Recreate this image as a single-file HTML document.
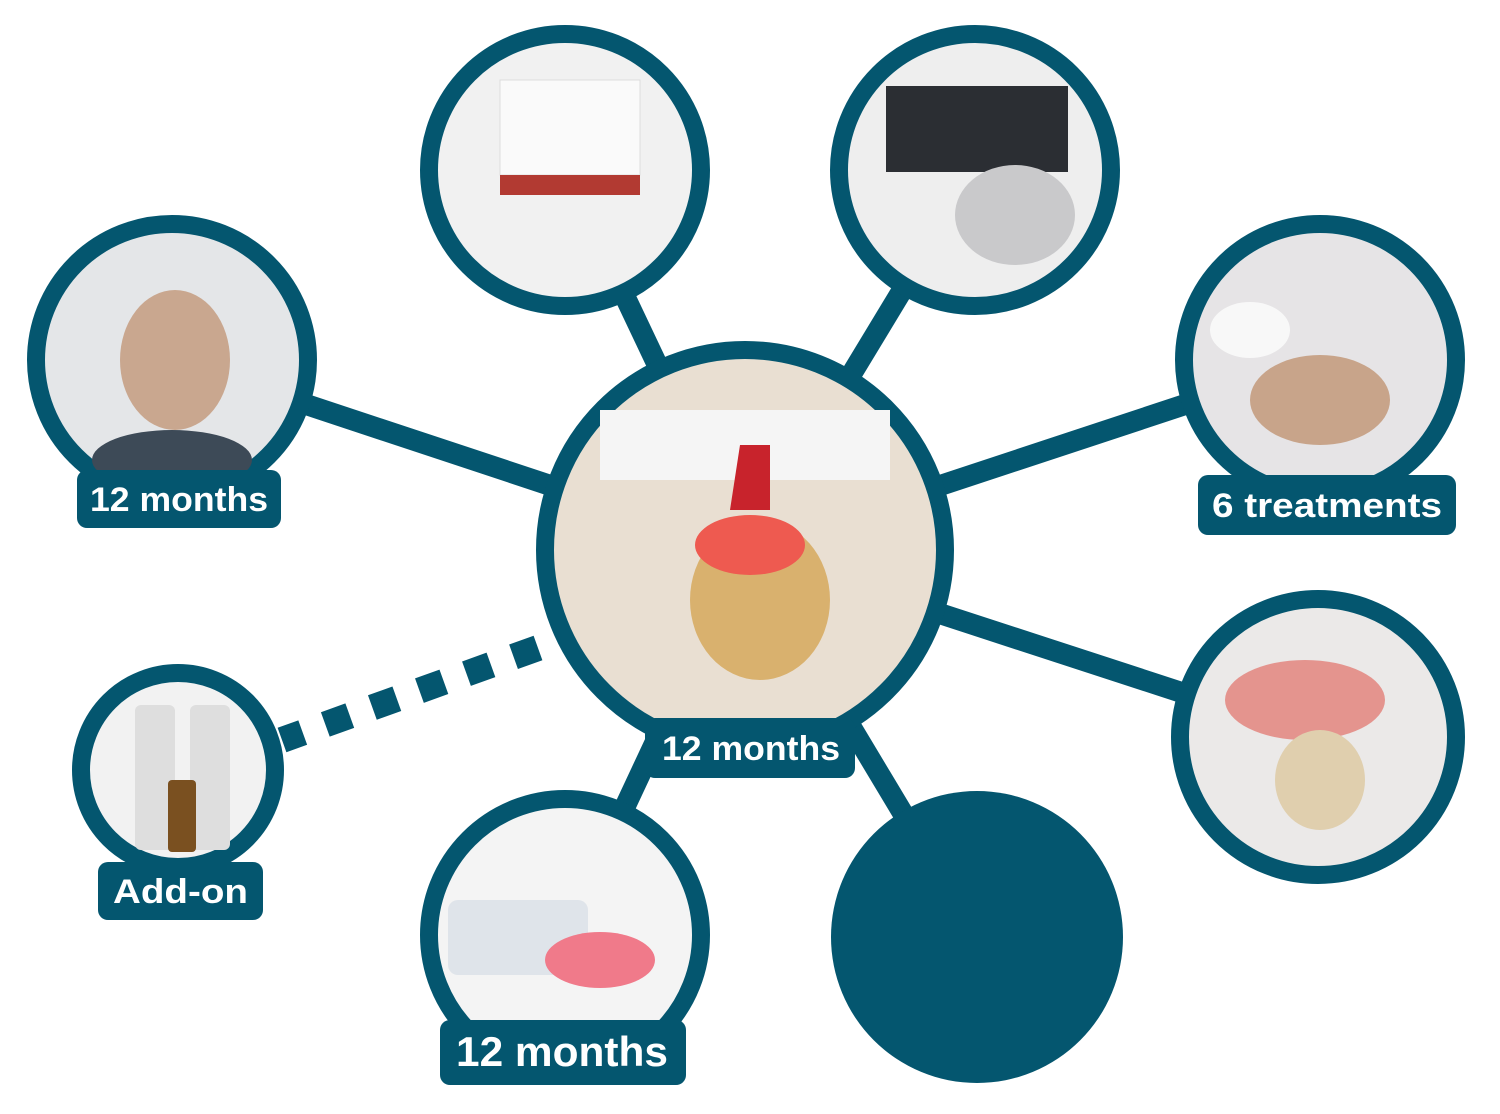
<!DOCTYPE html>
<html><head><meta charset="utf-8"><style>
html,body{margin:0;padding:0;background:#fff;}
svg{display:block}
text{font-family:"Liberation Sans",sans-serif;font-weight:bold;fill:#fff}
</style></head><body>
<svg width="1500" height="1114" viewBox="0 0 1500 1114" xmlns="http://www.w3.org/2000/svg">
<g stroke="#04566f" stroke-width="21" stroke-linecap="butt">
<line x1="745" y1="550" x2="565" y2="170"/>
<line x1="745" y1="550" x2="975" y2="170"/>
<line x1="745" y1="550" x2="172" y2="360"/>
<line x1="745" y1="550" x2="1320" y2="360"/>
<line x1="745" y1="550" x2="1318" y2="737"/>
<line x1="745" y1="550" x2="565" y2="935"/>
<line x1="745" y1="550" x2="977" y2="937"/>
</g>
<line x1="538" y1="648" x2="282" y2="740" stroke="#04566f" stroke-width="26" stroke-dasharray="26,24"/>
<g stroke="#04566f" stroke-width="18">
<circle cx="565" cy="170" r="136" fill="#f1f1f1"/>
<circle cx="975" cy="170" r="136" fill="#eeeeee"/>
<circle cx="172" cy="360" r="136" fill="#e4e6e8"/>
<circle cx="1320" cy="360" r="136" fill="#e6e4e6"/>
<circle cx="745" cy="550" r="200" fill="#e9dfd2"/>
<circle cx="1318" cy="737" r="138" fill="#ebe9e8"/>
<circle cx="178" cy="770" r="97" fill="#f2f2f2"/>
<circle cx="565" cy="935" r="136" fill="#f4f4f4"/>
</g>
<circle cx="977" cy="937" r="146" fill="#04566f"/>
<rect x="500" y="80" width="140" height="95" fill="#fafafa" stroke="#ddd"/>
<rect x="500" y="175" width="140" height="20" fill="#b23a32"/>
<rect x="886" y="86" width="182" height="86" fill="#2b2e33"/>
<ellipse cx="1015" cy="215" rx="60" ry="50" fill="#c9c9cb"/>
<ellipse cx="175" cy="360" rx="55" ry="70" fill="#c9a78f"/>
<ellipse cx="172" cy="460" rx="80" ry="30" fill="#3d4a57"/>
<ellipse cx="1320" cy="400" rx="70" ry="45" fill="#c8a48a"/>
<ellipse cx="1250" cy="330" rx="40" ry="28" fill="#f8f8f8"/>
<path d="M600 410 L890 410 L890 480 L600 480 Z" fill="#f5f5f5"/>
<path d="M740 445 L770 445 L770 510 L730 510 Z" fill="#c8232c"/>
<ellipse cx="760" cy="600" rx="70" ry="80" fill="#d9b16e"/>
<ellipse cx="750" cy="545" rx="55" ry="30" fill="#ee5a50"/>
<ellipse cx="1305" cy="700" rx="80" ry="40" fill="#e4948e"/>
<ellipse cx="1320" cy="780" rx="45" ry="50" fill="#e0cfae"/>
<rect x="135" y="705" width="40" height="145" rx="6" fill="#dedede"/>
<rect x="190" y="705" width="40" height="145" rx="6" fill="#dedede"/>
<rect x="168" y="780" width="28" height="72" rx="4" fill="#7a5020"/>
<rect x="448" y="900" width="140" height="75" rx="10" fill="#dfe4ea"/>
<ellipse cx="600" cy="960" rx="55" ry="28" fill="#f07a8a"/>
<rect x="77" y="470" width="204" height="58" rx="10" fill="#04566f"/>
<text x="90" y="511" font-size="34" textLength="178" lengthAdjust="spacingAndGlyphs">12 months</text>
<rect x="1198" y="475" width="258" height="60" rx="10" fill="#04566f"/>
<text x="1212" y="517" font-size="34" textLength="230" lengthAdjust="spacingAndGlyphs">6 treatments</text>
<rect x="645" y="718" width="210" height="60" rx="10" fill="#04566f"/>
<text x="662" y="760" font-size="34" textLength="178" lengthAdjust="spacingAndGlyphs">12 months</text>
<rect x="98" y="862" width="165" height="58" rx="10" fill="#04566f"/>
<text x="113" y="903" font-size="34" textLength="135" lengthAdjust="spacingAndGlyphs">Add-on</text>
<rect x="440" y="1020" width="246" height="65" rx="10" fill="#04566f"/>
<text x="456" y="1066" font-size="42" textLength="212" lengthAdjust="spacingAndGlyphs">12 months</text>
</svg>
</body></html>
